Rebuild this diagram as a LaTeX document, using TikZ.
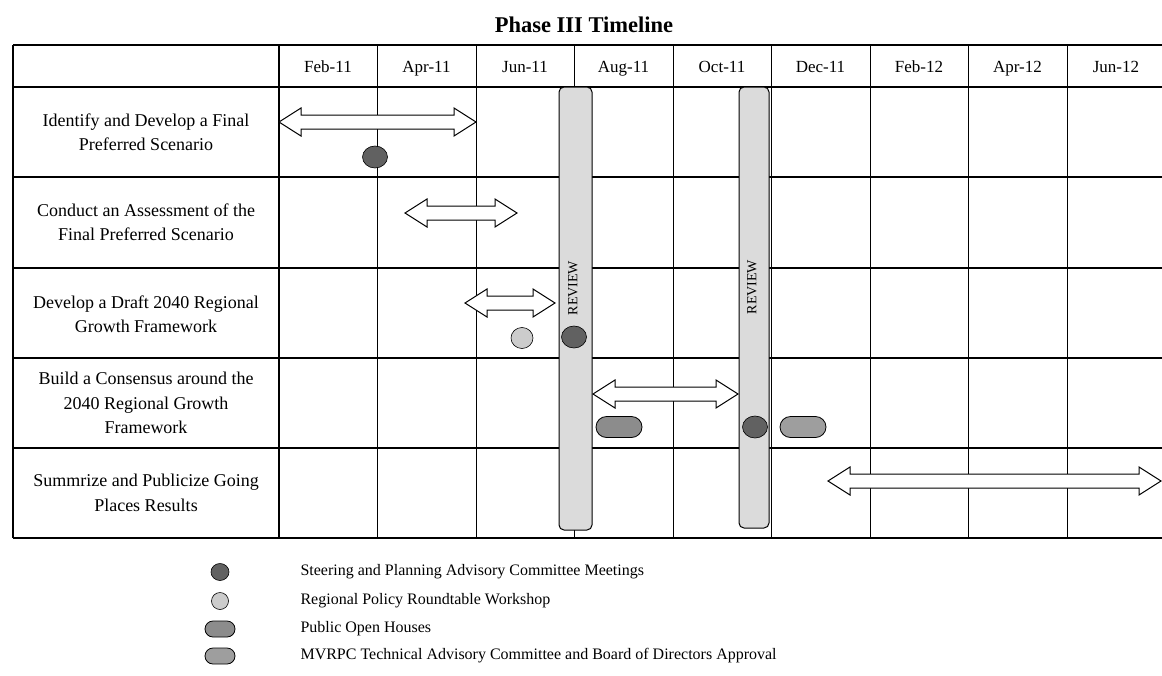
\documentclass[tikz,border=0pt]{standalone}
\usepackage{fontspec}
\setmainfont{Liberation Serif}
\usetikzlibrary{positioning, shapes.geometric, shapes.misc}

\definecolor{steerfill}{gray}{0.38}
\definecolor{roundfill}{gray}{0.80}
\definecolor{openfill}{gray}{0.55}
\definecolor{boardfill}{gray}{0.62}
\definecolor{reviewfill}{gray}{0.86}

\tikzset{
  rowline/.style={line width=2.4pt},
  monthline/.style={line width=0.9pt},
  rowlabel/.style={font=\fontsize{18}{24.5}\selectfont, align=center},
  month/.style={font=\fontsize{17}{18}\selectfont, anchor=base},
  keytext/.style={font=\fontsize{16}{18}\selectfont, anchor=west},
  blockarrow/.style={draw, fill=white, line width=1pt, line join=miter},
  reviewbar/.style={draw, fill=reviewfill, rounded corners=5pt, line width=1pt, inner sep=0pt},
  steerdot/.style={ellipse, draw, fill=steerfill, line width=0.6pt, minimum width=25pt, minimum height=22pt, inner sep=0pt},
  rounddot/.style={ellipse, draw, fill=roundfill, line width=0.6pt, minimum width=22pt, minimum height=21pt, inner sep=0pt},
  openpill/.style={rounded rectangle, draw, fill=openfill, line width=0.8pt, minimum width=46pt, minimum height=21pt, inner sep=0pt},
  boardpill/.style={rounded rectangle, draw, fill=boardfill, line width=0.8pt, minimum width=46pt, minimum height=21pt, inner sep=0pt},
}

% double block arrow: left tip x, right tip x, y
\newcommand{\dblarrow}[3]{%
  \draw[blockarrow] (#1,#3) -- (#1+22,#3-14) -- (#1+22,#3-7) -- (#2-22,#3-7)
    -- (#2-22,#3-14) -- (#2,#3) -- (#2-22,#3+14) -- (#2-22,#3+7)
    -- (#1+22,#3+7) -- (#1+22,#3+14) -- cycle;}

\begin{document}
\begin{tikzpicture}[x=1pt, y=-1pt]
\useasboundingbox (0,0) rectangle (1162,675);

% Title
\node[font=\bfseries\fontsize{22.5}{26}\selectfont, anchor=base] (title) at (584,32) {Phase III Timeline};

% Grid
\foreach \k in {1,...,8}
    \draw[monthline] (279+98.5*\k,45) -- (279+98.5*\k,538);
\foreach \y in {45,87,177,268,358,448,538}
    \draw[rowline] (13,\y) -- (1162,\y);
\draw[rowline] (13,45) -- (13,538);
\draw[rowline] (279,45) -- (279,538);

% Months
\foreach \m [count=\i from 0] in {Feb-11,Apr-11,Jun-11,Aug-11,Oct-11,Dec-11,Feb-12,Apr-12,Jun-12}
    \node[month] (m\i) at (328+98.5*\i,72) {\m};

% Tasks
\node[rowlabel] (task1) at (146,132) {Identify and Develop a Final\\Preferred Scenario};
\node[rowlabel] (task2) at (146,222) {Conduct an Assessment of the\\Final Preferred Scenario};
\node[rowlabel] (task3) at (146,314) {Develop a Draft 2040 Regional\\Growth Framework};
\node[rowlabel] (task4) at (146,403) {Build a Consensus around the\\2040 Regional Growth\\Framework};
\node[rowlabel] (task5) at (146,493) {Summrize and Publicize Going\\Places Results};

% Review bars
\node[reviewbar, minimum width=33pt, minimum height=443pt] (rev1) at (575.5,308.5) {};
\node[reviewbar, minimum width=30pt, minimum height=441pt] (rev2) at (754,307.5) {};
\node[rotate=90, font=\fontsize{14}{15}\selectfont] (rev1txt) at (573,288) {REVIEW};
\node[rotate=90, font=\fontsize{14}{15}\selectfont] (rev2txt) at (752,287) {REVIEW};

% Durations
\dblarrow{279}{476}{122}
\dblarrow{405}{517}{213}
\dblarrow{465}{555}{303}
\dblarrow{593}{738}{394}
\dblarrow{828}{1161}{481}

% Meetings
\node[steerdot] (meet1) at (375,157) {};
\node[rounddot] (work1) at (522,338) {};
\node[steerdot] (meet2) at (574,337) {};
\node[openpill] (house1) at (619,427) {};
\node[steerdot] (meet3) at (755,427) {};
\node[boardpill] (board1) at (803,427) {};

% Legend
\node[steerdot, minimum width=18pt, minimum height=17pt] (key1) at (220,572) {};
\node[rounddot, minimum width=17pt, minimum height=17pt] (key2) at (220,601) {};
\node[openpill, minimum width=30pt, minimum height=16pt] (key3) at (220,629) {};
\node[boardpill, minimum width=30pt, minimum height=16pt] (key4) at (220,656) {};
\node[keytext, right=77pt of key1.center] (key1txt) {Steering and Planning Advisory Committee Meetings};
\node[keytext, right=77pt of key2.center] (key2txt) {Regional Policy Roundtable Workshop};
\node[keytext, right=77pt of key3.center] (key3txt) {Public Open Houses};
\node[keytext, right=77pt of key4.center] (key4txt) {MVRPC Technical Advisory Committee and Board of Directors Approval};
\end{tikzpicture}
\end{document}
